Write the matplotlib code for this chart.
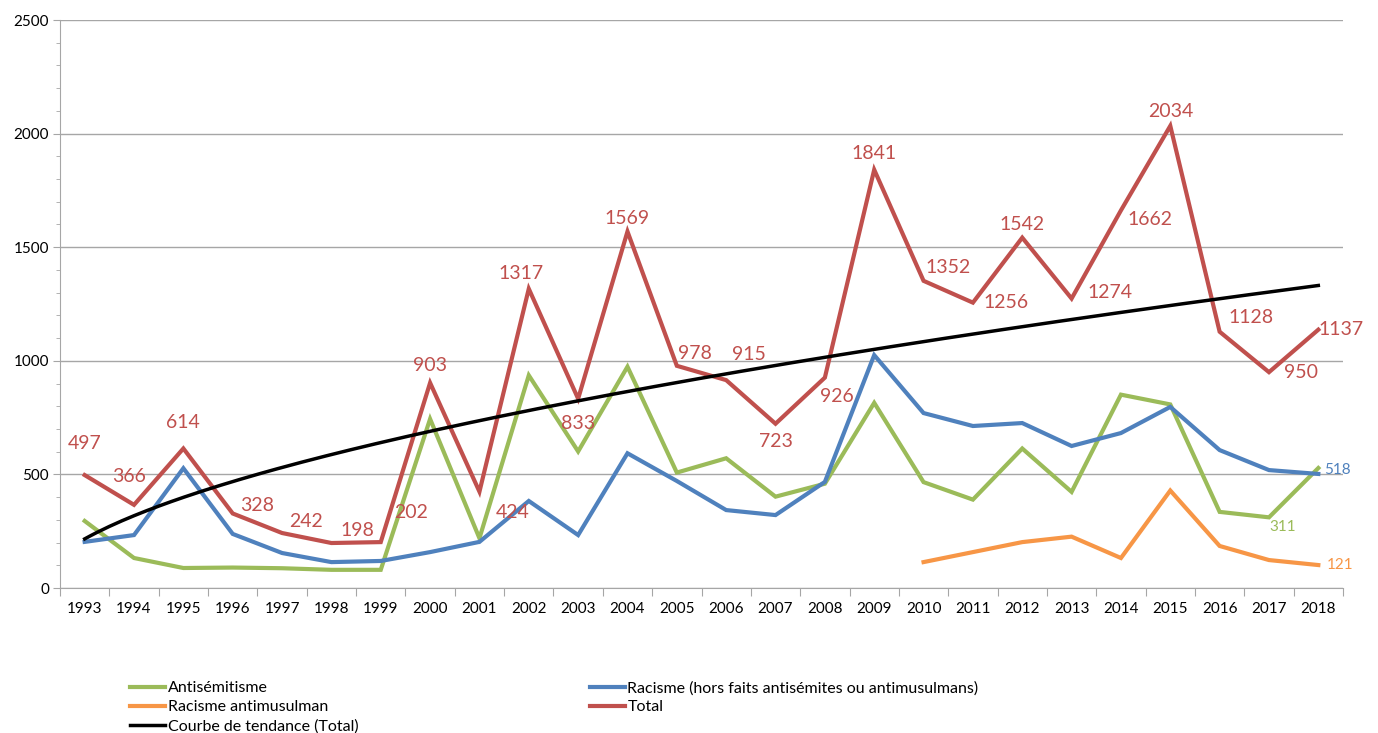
import numpy as np
import matplotlib
matplotlib.use("Agg")
import matplotlib.pyplot as plt
from matplotlib.ticker import MultipleLocator, FixedLocator, NullFormatter

plt.rcParams['font.family'] = ['Lato', 'DejaVu Sans']

years = list(range(1993, 2019))
antisemitisme = [295, 132, 88, 90, 87, 80, 80, 744, 219, 936, 601, 974, 508, 571, 402,
                 459, 815, 466, 389, 614, 423, 851, 808, 335, 311, 528]
racisme = [203, 233, 527, 238, 154, 114, 119, 158, 203, 383, 233, 593, 471, 343, 321,
           467, 1025, 770, 713, 726, 625, 682, 797, 607, 519, 502]
antimusulman_years = list(range(2010, 2019))
antimusulman = [114, 158, 202, 226, 132, 429, 185, 123, 101]
total = [497, 366, 614, 328, 242, 198, 202, 903, 424, 1317, 833, 1569, 978, 915, 723,
         926, 1841, 1352, 1256, 1542, 1274, 1662, 2034, 1128, 950, 1137]

# label offsets (pixels) for the total data labels
total_offsets = [(0, 32), (-5, 28), (0, 26), (24, 8), (24, 12), (26, 13), (30, 30),
                 (0, 17), (33, -21), (-8, 15), (0, -25), (0, 13), (18, 12), (23, 26),
                 (0, -18), (12, -19), (0, 16), (25, 13), (33, 0), (0, 13), (38, 6),
                 (29, -9), (0, 14), (31, 14), (32, 0), (23, 0)]

GREEN = '#9bbb59'
BLUE = '#4f81bd'
ORANGE = '#f79646'
RED = '#c0504d'

fig = plt.figure(figsize=(13.78, 7.33), dpi=100)
ax = fig.add_axes((60 / 1378, 1 - 588 / 733, 1283 / 1378, 568 / 733))

lw = 3.0
l1, = ax.plot(years, antisemitisme, color=GREEN, lw=lw, solid_joinstyle='miter', zorder=3)
l2, = ax.plot(years, racisme, color=BLUE, lw=lw, solid_joinstyle='miter', zorder=4)
l3, = ax.plot(antimusulman_years, antimusulman, color=ORANGE, lw=lw, solid_joinstyle='miter', zorder=5)
l4, = ax.plot(years, total, color=RED, lw=lw, solid_joinstyle='miter', zorder=6)

# power trend line on total (like Excel)
xi = np.arange(1, len(years) + 1)
p, lnc = np.polyfit(np.log(xi), np.log(total), 1)
xs = np.linspace(1, len(years), 200)
trend = np.exp(lnc) * xs ** p
l5, = ax.plot(xs + years[0] - 1, trend, color='black', lw=2.5, zorder=7)

for yr, v, (dx, dy) in zip(years, total, total_offsets):
    ax.annotate(str(v), (yr, v), xytext=(dx, dy), textcoords='offset pixels',
                ha='center', va='center', color=RED, fontsize=14, zorder=8)

ax.annotate(str(311), (years[-2], antisemitisme[-2]), xytext=(14, -10), textcoords='offset pixels',
            ha='center', va='center', color=GREEN, fontsize=11)
ax.annotate(str(518), (years[-1], racisme[-1]), xytext=(6, 4), textcoords='offset pixels',
            ha='left', va='center', color=BLUE, fontsize=11)
ax.annotate(str(121), (antimusulman_years[-1], antimusulman[-1]), xytext=(8, 0), textcoords='offset pixels',
            ha='left', va='center', color=ORANGE, fontsize=11)

ax.set_xlim(years[0] - 0.5, years[-1] + 0.5)
ax.set_ylim(0, 2500)
ax.yaxis.set_major_locator(MultipleLocator(500))
ax.yaxis.set_minor_locator(MultipleLocator(100))
ax.grid(axis='y', which='major', color='#a6a6a6', lw=1.0, zorder=1)

ax.xaxis.set_major_locator(FixedLocator([y + 0.5 for y in range(years[0] - 1, years[-1] + 1)]))
ax.xaxis.set_major_formatter(NullFormatter())
ax.set_xticks(years, [str(y) for y in years], minor=True)
ax.tick_params(axis='x', which='major', length=6, color='#a6a6a6', direction='out')
ax.tick_params(axis='x', which='minor', length=0, pad=10, labelsize=11)
ax.tick_params(axis='y', which='major', length=5, color='#a6a6a6', labelsize=11, pad=3)
ax.tick_params(axis='y', which='minor', length=3, color='#a6a6a6')

for s in ['top', 'right']:
    ax.spines[s].set_visible(False)
ax.spines['left'].set_color('#a6a6a6')
ax.spines['bottom'].set_color('#a6a6a6')

handles = [l1, l3, l5, l2, l4]
labels = ['Antisémitisme', 'Racisme antimusulman', 'Courbe de tendance (Total)',
          'Racisme (hors faits antisémites ou antimusulmans)', 'Total']
fig.legend(handles, labels, loc='upper left', bbox_to_anchor=(130 / 1378, 1 - 681 / 733),
           ncol=2, frameon=False, fontsize=11.5, handlelength=2.2, handletextpad=0.15,
           columnspacing=14.5, labelspacing=0.3, borderaxespad=0, borderpad=0)

fig.savefig('out.png', dpi=100)
